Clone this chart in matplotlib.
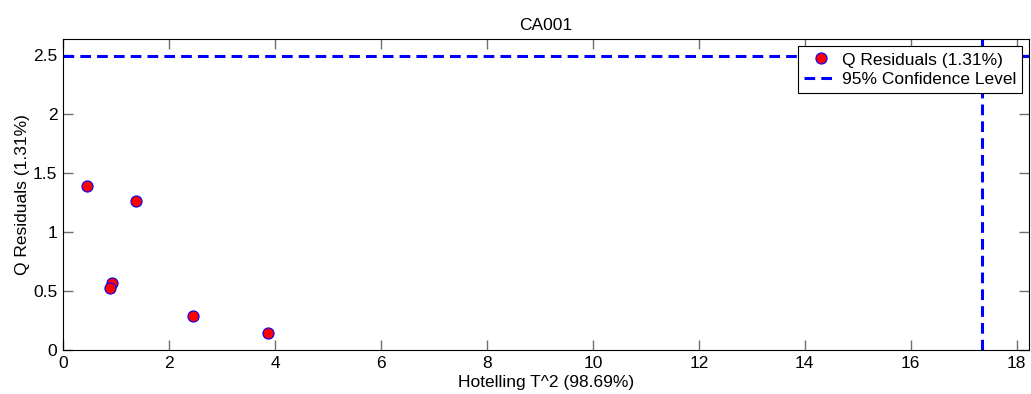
import matplotlib.pyplot as plt

plt.rcParams['font.family'] = ['Liberation Sans', 'DejaVu Sans']

# Hotelling T^2 and Q residuals per sample
t2 = [0.45, 1.37, 0.93, 0.89, 2.45, 3.87]
q = [1.39, 1.263, 0.571, 0.523, 0.288, 0.141]

# 95% confidence limits
t2_lim = 17.35
q_lim = 2.49

fig = plt.figure(figsize=(10.31, 3.94), dpi=100)
ax = fig.add_axes([0.0611, 0.1117, 0.9369, 0.7883])

ax.plot(t2, q, 'o', color='red', markeredgecolor='blue', markeredgewidth=0.8,
        markersize=8, label='Q Residuals (1.31%)', zorder=3)
ax.axhline(q_lim, color='blue', linestyle=(0, (3.5, 2)), linewidth=2.2,
           label='95% Confidence Level')
ax.axvline(t2_lim, color='blue', linestyle=(0, (3.5, 2)), linewidth=2.2)

ax.set_xlim(0, 18.23)
ax.set_ylim(0, 2.63)
ax.set_xticks(range(0, 19, 2))
ax.set_yticks([0, 0.5, 1, 1.5, 2, 2.5])
ax.set_yticklabels(['0', '0.5', '1', '1.5', '2', '2.5'])
ax.tick_params(direction='in', length=7, width=1, color='#707070',
               top=True, right=True, labelsize=12.5, pad=4)

ax.set_title('CA001', fontsize=12.5, pad=7)
ax.set_xlabel('Hotelling T^2 (98.69%)', fontsize=12.5, labelpad=3)
ax.set_ylabel('Q Residuals (1.31%)', fontsize=12.5, labelpad=2)

leg = ax.legend(loc='upper right', fontsize=12.5, fancybox=False, framealpha=1,
                edgecolor='black', borderpad=0.35, handlelength=1.9,
                handletextpad=0.25, labelspacing=0.25, borderaxespad=0.4)
leg.get_frame().set_linewidth(0.8)

fig.savefig('out.png', dpi=100)
